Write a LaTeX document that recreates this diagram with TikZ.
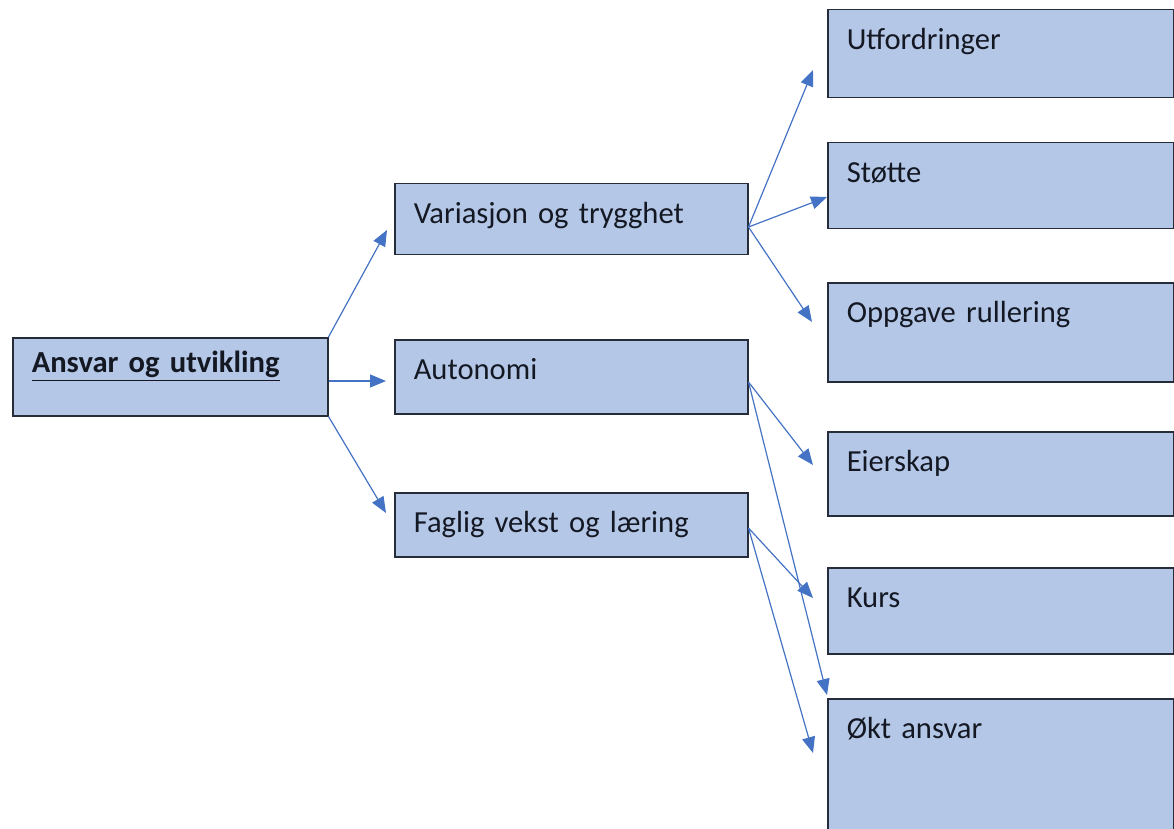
\documentclass[tikz,border=0pt]{standalone}
\usepackage{fontspec}
\setmainfont{Carlito}
\usepackage{tikz}
\usetikzlibrary{positioning,calc}
\usetikzlibrary{arrows.meta}
\definecolor{boxfill}{RGB}{180,199,231}
\definecolor{boxline}{RGB}{38,44,58}
\definecolor{boxtext}{RGB}{20,24,35}
\definecolor{myblue}{RGB}{68,114,196}

\begin{document}
\begin{tikzpicture}[
  x = 0.5pt,
  y = -0.5pt,
  box/.style = {
    draw = boxline,
    line width = 0.75pt,
    fill = boxfill,
    text = boxtext,
    anchor = north west,
    inner xsep = 9.5pt,
    inner ysep = 0pt,
    text height = 20pt,
    align = left,
    font = \fontsize{15.3}{18}\selectfont,
  },
  midbox/.style = {
    box,
    text width = 157.5pt,
  },
  leafbox/.style = {
    box,
    text width = 154pt,
  },
  link/.style = {
    ->,
    draw = myblue,
    line width = 0.6pt,
  },
  >={Triangle[length=8pt,width=6.5pt]},
]

  \useasboundingbox (0,0) rectangle (1174,829);
  \clip (0,0) rectangle (1174,829);

  \node[box,text width=138.5pt,text height=17.5pt,text depth=21.5pt] (root) at (12,337) {\textbf{\underline{Ansvar og utvikling}}};

  \node[midbox,text depth=15.5pt] (var) at (394,183) {Variasjon og trygghet};
  \node[midbox,text depth=17pt] (aut) at (394,339) {Autonomi};
  \node[midbox,text depth=12pt] (fag) at (394,492) {Faglig vekst og læring};

  \node[leafbox,text depth=24pt] (utf) at (827,9) {Utfordringer};
  \node[leafbox,text depth=23pt] (stot) at (827,142) {Støtte};
  \node[leafbox,text depth=29.5pt] (opp) at (827,282) {Oppgave rullering};
  \node[leafbox,text depth=22pt] (eier) at (827,431) {Eierskap};
  \node[leafbox,text depth=23pt] (kurs) at (827,567) {Kurs};
  \node[leafbox,text depth=50pt] (okt) at (827,698) {Økt ansvar};

  % first level
  \draw[link] (root.north east) -- ($(var.north west)+(-7,47)$);
  \draw[link] ($(root.north east)+(0,44)$) -- ($(aut.north west)+(-8,42)$);
  \draw[link] (root.south east) -- ($(fag.north west)+(-8,21)$);

  % second level
  \draw[link] ($(var.north east)+(0,44)$) -- ($(utf.north west)+(-14,61)$);
  \draw[link] ($(var.north east)+(0,44)$) -- ($(stot.north west)+(0,55)$);
  \draw[link] ($(var.north east)+(0,44)$) -- ($(opp.north west)+(-15,40)$);

  \draw[link] ($(aut.north east)+(0,43)$) -- ($(eier.north west)+(-14,34)$);
  \draw[link] ($(aut.north east)+(0,43)$) -- ($(okt.north west)+(0,-3)$);

  \draw[link] ($(fag.north east)+(0,36)$) -- ($(kurs.north west)+(-14,31)$);
  \draw[link] ($(fag.north east)+(0,36)$) -- ($(okt.north west)+(-14,55)$);

\end{tikzpicture}
\end{document}
